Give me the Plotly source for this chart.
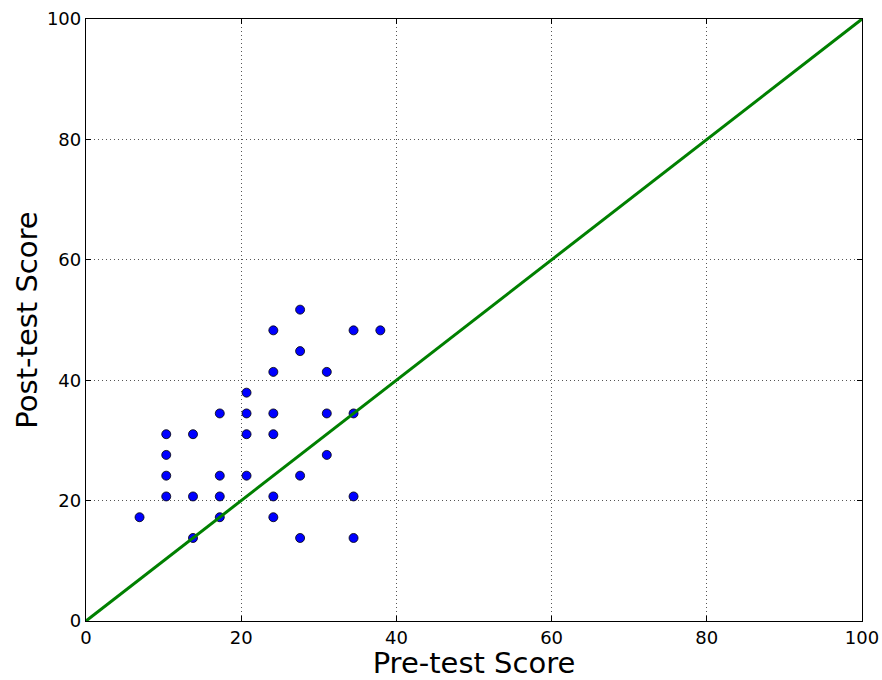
import plotly.graph_objects as go

pre_scores = [27.59, 24.14, 34.48, 37.93, 27.59, 24.14, 31.03, 20.69,
              17.24, 20.69, 24.14, 31.03, 34.48,
              10.34, 13.79, 20.69, 24.14,
              10.34, 31.03,
              10.34, 17.24, 20.69, 27.59,
              10.34, 13.79, 17.24, 24.14, 34.48,
              6.90, 17.24, 24.14,
              13.79, 27.59, 34.48]
post_scores = [51.72, 48.28, 48.28, 48.28, 44.83, 41.38, 41.38, 37.93,
               34.48, 34.48, 34.48, 34.48, 34.48,
               31.03, 31.03, 31.03, 31.03,
               27.59, 27.59,
               24.14, 24.14, 24.14, 24.14,
               20.69, 20.69, 20.69, 20.69, 20.69,
               17.24, 17.24, 17.24,
               13.79, 13.79, 13.79]
diag = [0, 100]
tick_vals = [0, 20, 40, 60, 80, 100]

fig = go.Figure()
fig.add_trace(go.Scatter(
    x=pre_scores, y=post_scores, mode="markers",
    marker=dict(color="#0000ff", size=9, line=dict(color="black", width=0.8)),
    showlegend=False, cliponaxis=False))
fig.add_trace(go.Scatter(
    x=diag, y=diag, mode="lines",
    line=dict(color="#008000", width=3), showlegend=False))

axis_common = dict(
    range=[0, 100], tickvals=tick_vals, showgrid=True,
    gridcolor="#555555", griddash="1px,3px", gridwidth=1,
    showline=True, linecolor="black", linewidth=1.3, mirror="ticks",
    ticks="inside", ticklen=5, tickcolor="black",
    zeroline=False, tickfont=dict(size=18, color="black"),
    automargin=False,
)
fig.update_xaxes(**axis_common, title=dict(text="Pre-test Score", font=dict(size=29, color="black"), standoff=0))
fig.update_yaxes(**axis_common, title=dict(text="Post-test Score", font=dict(size=29, color="black"), standoff=0))

fig.update_layout(
    width=882, height=680,
    margin=dict(l=86, r=20, t=19, b=59),
    plot_bgcolor="white", paper_bgcolor="white",
    font=dict(family="DejaVu Sans", color="black"),
)
fig.write_html(
    "out.html",
    config={"displayModeBar": False},
    post_script="document.body.style.margin='0';document.body.style.overflow='hidden';",
)
